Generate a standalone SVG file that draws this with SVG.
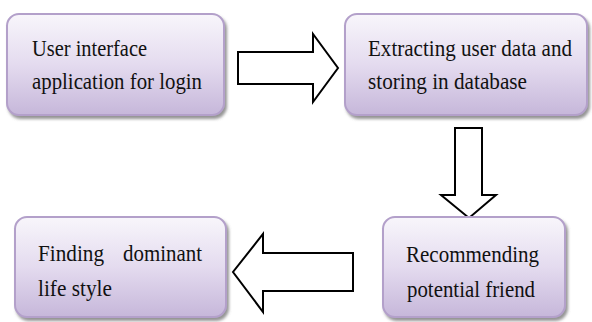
<svg xmlns="http://www.w3.org/2000/svg" width="592" height="322" viewBox="0 0 592 322">
<defs>
<linearGradient id="g" x1="0" y1="0" x2="0" y2="1">
<stop offset="0" stop-color="#f8f6fb"/>
<stop offset="0.5" stop-color="#e4dbef"/>
<stop offset="1" stop-color="#c6b7da"/>
</linearGradient>
<filter id="sh" x="-10%" y="-10%" width="125%" height="130%">
<feDropShadow dx="2" dy="3" stdDeviation="1.5" flood-color="#666" flood-opacity="0.7"/>
</filter>
</defs>
<style>
.box{fill:url(#g);stroke:#b3a0ca;stroke-width:2;filter:url(#sh)}
.t{font-family:'Liberation Serif','Times New Roman',serif;font-size:22.5px;fill:#111}
.arr{fill:#fff;stroke:#000;stroke-width:2;stroke-linejoin:miter}
</style>
<rect width="592" height="322" fill="#fff"/>
<g id="connectors">
<polygon class="arr" points="238,52 313,52 313,34 338,68 313,102 313,84 238,84"/>
<polygon class="arr" points="455,128 482,128 482,195 496,195 469,218 441,195 455,195"/>
<polygon class="arr" points="353,253 263,253 263,234 233,272 263,312 263,291 353,291"/>
</g>
<g id="node1">
<rect class="box" x="7" y="14" width="217" height="101" rx="12"/>
<text class="t" x="32" y="56" textLength="115" lengthAdjust="spacingAndGlyphs">User interface</text>
<text class="t" x="32" y="89" textLength="170" lengthAdjust="spacingAndGlyphs">application for login</text>
</g>
<g id="node2">
<rect class="box" x="345" y="14" width="242" height="101" rx="12"/>
<text class="t" x="368" y="56" textLength="204" lengthAdjust="spacingAndGlyphs">Extracting user data and</text>
<text class="t" x="368" y="89" textLength="159" lengthAdjust="spacingAndGlyphs">storing in database</text>
</g>
<g id="node3">
<rect class="box" x="15" y="217" width="211" height="100" rx="12"/>
<text class="t" y="261"><tspan x="38" textLength="66" lengthAdjust="spacingAndGlyphs">Finding</tspan> <tspan x="123" textLength="79" lengthAdjust="spacingAndGlyphs">dominant</tspan></text>
<text class="t" x="38" y="296" textLength="74" lengthAdjust="spacingAndGlyphs">life style</text>
</g>
<g id="node4">
<rect class="box" x="383" y="217" width="182" height="100" rx="12"/>
<text class="t" x="406" y="262" textLength="133" lengthAdjust="spacingAndGlyphs">Recommending</text>
<text class="t" x="407" y="297" textLength="128" lengthAdjust="spacingAndGlyphs">potential friend</text>
</g>
</svg>
